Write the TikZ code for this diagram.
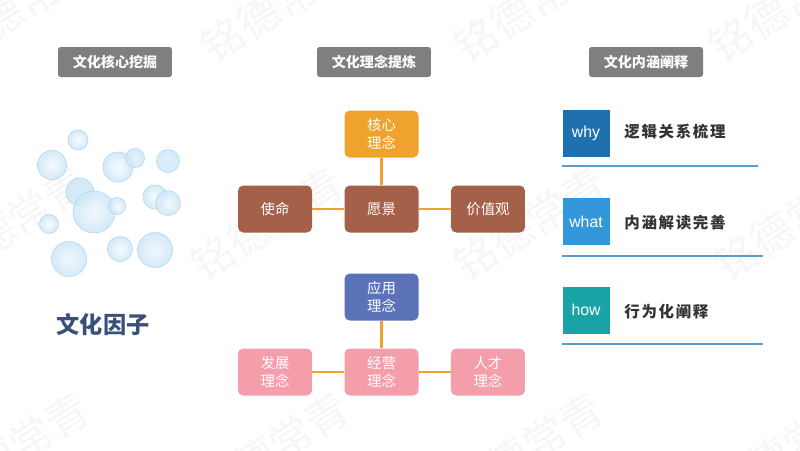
\documentclass[tikz,border=0pt]{standalone}
\usepackage{fontspec}
\usepackage{xcolor}
\setmainfont{Liberation Sans}
\newfontfamily\cjk{Noto Sans CJK SC}
\newfontfamily\cjkspaced[LetterSpace=11]{Noto Sans CJK SC}
\usetikzlibrary{positioning}

\definecolor{grisbar}{HTML}{7F7F7F}
\definecolor{orangecore}{HTML}{F0A22E}
\definecolor{brunbox}{HTML}{A5604A}
\definecolor{bleubox}{HTML}{5B72B9}
\definecolor{rosebox}{HTML}{F49EAC}
\definecolor{bleuwhy}{HTML}{1E70AE}
\definecolor{bleuwhat}{HTML}{3497DC}
\definecolor{tealhow}{HTML}{1AA3A7}
\definecolor{bleuline}{HTML}{5B9CC8}
\definecolor{bleubulle}{HTML}{A6D3F0}
\definecolor{marine}{HTML}{3A5078}

\tikzset{
    headbar/.style={fill=grisbar, rounded corners=1.5pt, minimum width=2.28cm, minimum height=0.6cm, inner sep=0pt, text=white, font=\cjk\fontsize{8}{10}\selectfont\bfseries},
    conceptbox/.style={rounded corners=3pt, minimum width=1.48cm, minimum height=0.94cm, inner sep=0pt, text=white, align=center, font=\cjk\fontsize{8.2}{10.2}\selectfont},
    itembox/.style={minimum width=0.94cm, minimum height=0.94cm, inner sep=0pt, text=white, font=\fontsize{9}{11}\selectfont},
    itemtext/.style={anchor=west, inner sep=0pt, text=black!80, font=\cjkspaced\fontsize{8.8}{10}\selectfont\bfseries},
    itemline/.style={bleuline, line width=0.6pt},
    vlink/.style={orangecore, line width=1.5pt},
    hlink/.style={orangecore, line width=1.1pt},
    bubble/.style={draw=bleubulle, line width=0.35pt, outer color=bleubulle!55, opacity=0.85},
    filigrane/.style={text=black!3.5, rotate=32, font=\cjk\fontsize{24}{24}\selectfont}
}

\begin{document}
\begin{tikzpicture}[x=0.02cm, y=-0.02cm, node distance=2.13cm and 2.13cm, on grid]

    \path[use as bounding box, clip] (0,0) rectangle (800,450);
    \fill[white] (0,0) rectangle (800,450);

    % Filigrane
    \foreach \wx/\wy in {20/6, 277/6, 530/6, 785/6, 12/224, 267/224, 530/224, 790/224, 13/449, 273/449, 527/449, 787/449}
        \node[filigrane] at (\wx,\wy) {铭德常青};

    % Titres des colonnes
    \node[headbar] (head1) at (115,62) {文化核心挖掘};
    \node[headbar] (head2) at (374,62) {文化理念提炼};
    \node[headbar] (head3) at (646,62) {文化内涵阐释};

    % Bulles
    \foreach \bx/\by/\br/\bt in {78/140/10/8, 52/165/14.5/12, 118/167/15/10, 135/158/9.5/35, 168/161/11.5/40,
        80/192/14/55, 94/212/21/18, 117/206/8.5/12, 155/197/12/6, 168/203/12.5/20,
        49/224/9.5/6, 69/259/17.5/18, 120/249/12.5/10, 155/250/17.5/20}
        \draw[bubble, inner color=bleubulle!\bt!white] (\bx,\by) circle[radius=\br];
    \node[text=marine, inner sep=0pt, font=\cjk\fontsize{13.2}{15}\selectfont\bfseries] (facteur) at (103,325) {文化因子};

    % Premier groupe
    \node[conceptbox, fill=brunbox] (vision) at (381.5,209) {愿景};
    \node[conceptbox, fill=orangecore, above=1.5cm of vision] (core) {核心\\理念};
    \node[conceptbox, fill=brunbox, left=of vision] (mission) {使命};
    \node[conceptbox, fill=brunbox, right=of vision] (values) {价值观};

    % Second groupe
    \node[conceptbox, fill=rosebox] (business) at (381.5,372) {经营\\理念};
    \node[conceptbox, fill=bleubox, above=1.5cm of business] (apply) {应用\\理念};
    \node[conceptbox, fill=rosebox, left=of business] (growth) {发展\\理念};
    \node[conceptbox, fill=rosebox, right=of business] (talent) {人才\\理念};

    % Liaisons
    \draw[vlink] (core) -- (vision);
    \draw[hlink] (mission) -- (vision);
    \draw[hlink] (vision) -- (values);
    \draw[vlink] (apply) -- (business);
    \draw[hlink] (growth) -- (business);
    \draw[hlink] (business) -- (talent);

    % Colonne de droite
    \node[itembox, fill=bleuwhy] (why) at (586,133.5) {why};
    \node[itembox, fill=bleuwhat] (what) at (586,221.5) {what};
    \node[itembox, fill=tealhow] (how) at (586,310) {how};
    \node[itemtext] (whytext) at (624,132) {逻辑关系梳理};
    \node[itemtext] (whattext) at (624,223) {内涵解读完善};
    \node[itemtext] (howtext) at (624,312) {行为化阐释};
    \coordinate (whyend) at (758,166);
    \coordinate (whatend) at (763,256);
    \coordinate (howend) at (763,344);
    \draw[itemline] (why.west |- whyend) -- (whyend);
    \draw[itemline] (what.west |- whatend) -- (whatend);
    \draw[itemline] (how.west |- howend) -- (howend);

\end{tikzpicture}
\end{document}
